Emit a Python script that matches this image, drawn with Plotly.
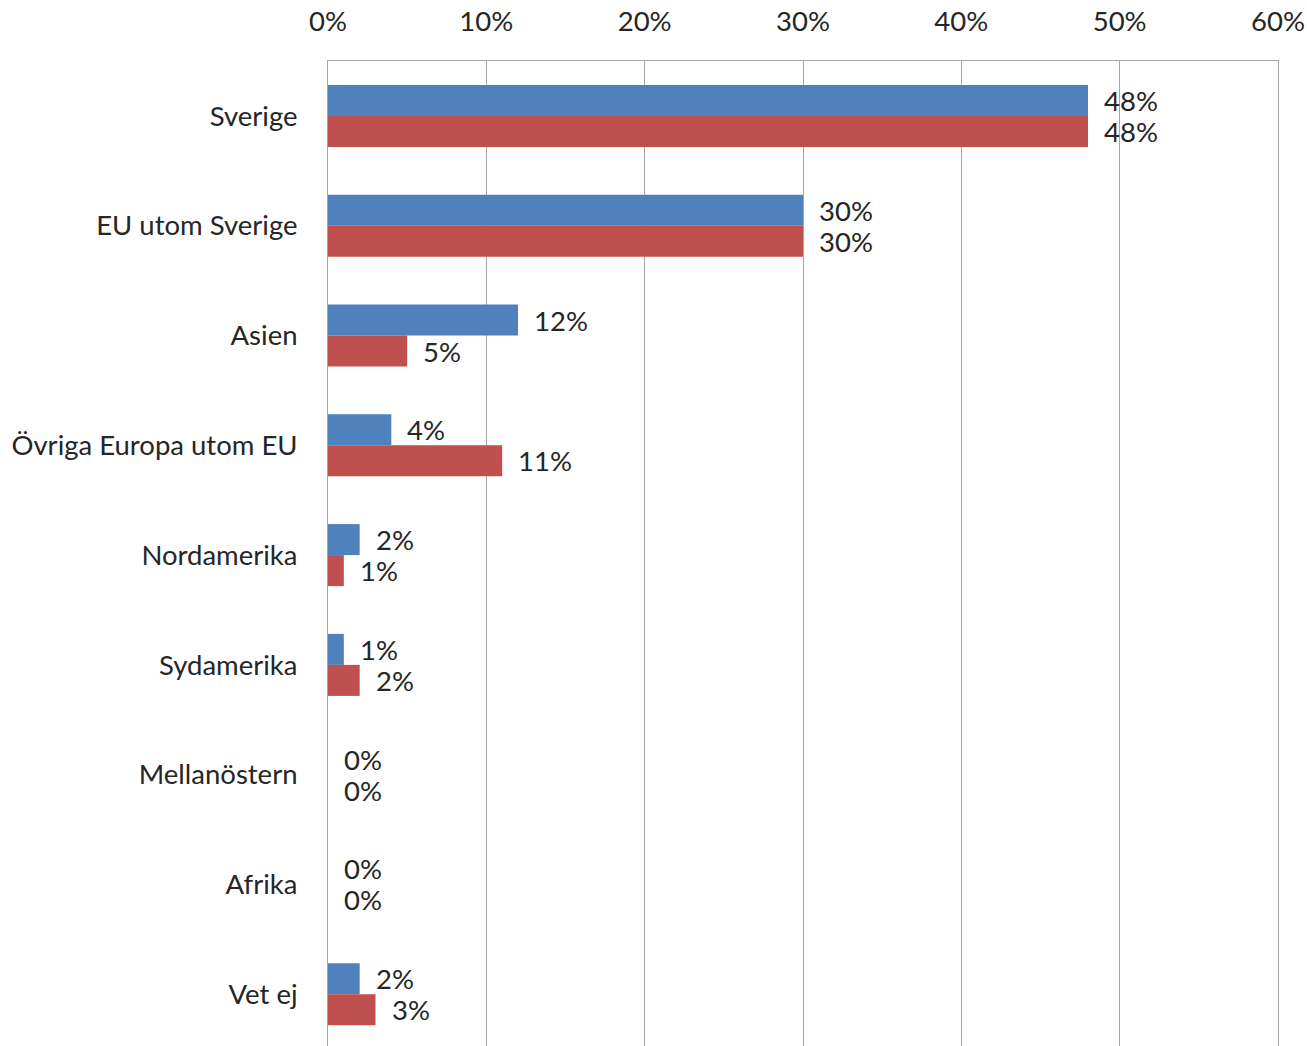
"""Grouped horizontal bar chart: origin of respondents (two series)."""

import plotly.graph_objects as go

# ---------------------------------------------------------------------------
# Data
# ---------------------------------------------------------------------------
categories = [
    "Sverige",
    "EU utom Sverige",
    "Asien",
    "Övriga Europa utom EU",
    "Nordamerika",
    "Sydamerika",
    "Mellanöstern",
    "Afrika",
    "Vet ej",
]
series_blue = [48, 30, 12, 4, 2, 1, 0, 0, 2]
series_red = [48, 30, 5, 11, 1, 2, 0, 0, 3]
x_ticks = [0, 10, 20, 30, 40, 50, 60]
x_tick_labels = [f"{t}%" for t in x_ticks]

BLUE = "#4F81BD"
RED = "#C0504D"
GRID = "#A6A6A6"
TEXT = "#262626"
FONT = dict(family="Lato, sans-serif", size=27.5, color=TEXT)

# ---------------------------------------------------------------------------
# Figure
# ---------------------------------------------------------------------------
fig = go.Figure()
for vals, colour in [(series_blue, BLUE), (series_red, RED)]:
    fig.add_trace(
        go.Bar(
            x=vals,
            y=categories,
            orientation="h",
            marker=dict(color=colour, line=dict(width=0)),
            showlegend=False,
        )
    )

# value labels next to each bar
for vals, shift in [(series_blue, 15.5), (series_red, -15.5)]:
    for cat, v in zip(categories, vals):
        fig.add_annotation(
            x=v,
            y=cat,
            text=f"{v}%",
            showarrow=False,
            xanchor="left",
            yanchor="middle",
            xshift=14,
            yshift=shift,
            font=FONT,
        )

# plot area runs to the bottom edge of the page, as in the original
fig.update_layout(
    width=1307,
    height=1046,
    paper_bgcolor="white",
    plot_bgcolor="white",
    font=FONT,
    barmode="group",
    bargap=0.435,
    bargroupgap=0,
    hovermode=False,
    margin=dict(l=328, r=29, t=61, b=0),
    xaxis=dict(
        side="top",
        range=[0, 60],
        tickvals=x_ticks,
        ticktext=x_tick_labels,
        ticklabeloverflow="allow",
        showgrid=True,
        gridcolor=GRID,
        gridwidth=1,
        showline=True,
        linecolor=GRID,
        linewidth=1,
        zeroline=False,
        ticks="",
        ticklabelstandoff=18,
        tickfont=FONT,
    ),
    yaxis=dict(
        type="category",
        range=[8.471, -0.5],
        showgrid=False,
        showline=True,
        mirror=True,
        linecolor=GRID,
        linewidth=1,
        zeroline=False,
        ticks="",
        ticklabelstandoff=24,
        tickfont=FONT,
    ),
)

# drop the default body margin so the figure sits at the page's top-left corner
fig.write_html(
    "out.html",
    config={"displayModeBar": False},
    post_script="document.body.style.margin = '0';",
)
